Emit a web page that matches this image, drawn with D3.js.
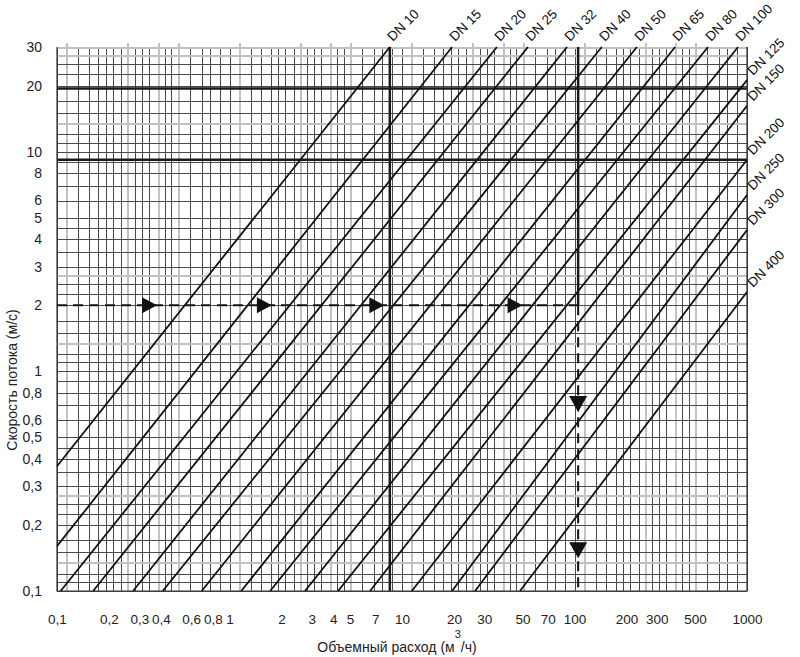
<!DOCTYPE html>
<html>
<head>
<meta charset="utf-8">
<script src="https://cdnjs.cloudflare.com/ajax/libs/d3/7.8.5/d3.min.js"></script>
<style>
  body { margin: 0; background: #fff; }
  svg { font-family: "Liberation Sans", Arial, sans-serif; }
  .axis text { font-size: 14px; fill: #222; }
  .x.axis text { font-size: 13.5px; }
  .axis .domain { display: none; }
</style>
</head>
<body>
<script>
// pipe sizes, one line each
var dnNames = ["DN 10", "DN 15", "DN 20", "DN 25", "DN 32", "DN 40", "DN 50", "DN 65",
               "DN 80", "DN 100", "DN 125", "DN 150", "DN 200", "DN 250", "DN 300", "DN 400"];

// lower and upper end of each line, [flow m3/h, velocity m/s]
var lineStart = [[0.1, 0.37], [0.1, 0.16], [0.105, 0.1], [0.162, 0.1], [0.276, 0.1], [0.41, 0.1],
                 [0.69, 0.1], [1.17, 0.1], [1.72, 0.1], [2.74, 0.1], [4.26, 0.1], [6.53, 0.1],
                 [11.4, 0.1], [19.5, 0.1], [26.5, 0.1], [48.3, 0.1]];
var lineEnd = [[8.5, 30], [19.5, 30], [35.5, 30], [53.7, 30], [90.5, 30], [144, 30],
               [230, 30], [383, 30], [594, 30], [887, 30], [1000, 21.2], [1000, 16.2],
               [1000, 9.2], [1000, 6.36], [1000, 4.4], [1000, 2.3]];

// tick labels
var xTicks = [0.1, 0.2, 0.3, 0.4, 0.6, 0.8, 1, 2, 3, 4, 5, 7, 10, 20, 30, 50, 70, 100, 200, 300, 500, 1000];
var yTicks = [0.1, 0.2, 0.3, 0.4, 0.5, 0.6, 0.8, 1, 2, 3, 4, 5, 6, 8, 10, 20, 30];

// grid paper: lines inside every decade
var decadesX = [0.1, 1, 10, 100];
var gridMantX = [1, 1.13, 1.33, 1.53, 1.73, 1.92, 2.1, 2.35, 2.55, 2.83, 3.1, 3.4, 3.85, 4.2, 4.6, 5, 5.9, 6.9, 7.7, 8.8];
var grayMantX = [1.13, 2.55, 3.85, 5];
var decadesY = [0.1, 1, 10];
var gridMantY = [1, 1.1, 1.2, 1.35, 1.5, 1.7, 2, 2.25, 2.5, 2.75, 3, 3.5, 4, 4.5, 5, 6, 7, 8, 9];
var grayMantY = [1.35, 2.75];

// the heavy lines of the chart
var heavyY = [9.2, 19.4];
var heavyX = [8.5];

// worked example: 2 m/s, about 105 m3/h
var exampleV = 2;
var exampleQ = 105;
var arrowFlows = [0.38, 1.76, 7.9, 50];
var arrowVels = [0.653, 0.141];

var margin = {top: 47, right: 53, bottom: 66, left: 57};
var width = 800 - margin.left - margin.right;
var height = 657 - margin.top - margin.bottom;

var svg = d3.select("body").append("svg")
    .attr("width", 800)
    .attr("height", 657)
  .append("g")
    .attr("transform", "translate(" + margin.left + "," + margin.top + ")");

var x = d3.scaleLog().domain([0.1, 1000]).range([0, width]);
var y = d3.scaleLog().domain([0.1, 30]).range([height, 0]);

// build grid values
var gridX = [], gridY = [];
decadesX.forEach(function(d) {
  gridMantX.forEach(function(m) {
    gridX.push({v: d * m, gray: grayMantX.indexOf(m) >= 0});
  });
});
gridX.push({v: 1000, gray: false});
decadesY.forEach(function(d) {
  gridMantY.forEach(function(m) {
    if (d * m <= 30) gridY.push({v: d * m, gray: grayMantY.indexOf(m) >= 0});
  });
});
gridY.push({v: 30, gray: true});

var grid = svg.append("g").attr("shape-rendering", "crispEdges");

grid.selectAll(".gx")
    .data(gridX)
  .enter().append("line")
    .attr("x1", function(d) { return Math.round(x(d.v)) + 0.5; })
    .attr("x2", function(d) { return Math.round(x(d.v)) + 0.5; })
    .attr("y1", function(d) { return d.gray ? -4 : 0; })
    .attr("y2", height)
    .attr("stroke", function(d) { return d.gray ? "#c2c2c2" : "#4a4a4a"; })
    .attr("stroke-width", function(d) { return d.gray ? 2 : 1; });

grid.selectAll(".gy")
    .data(gridY)
  .enter().append("line")
    .attr("x1", 0)
    .attr("x2", width)
    .attr("y1", function(d) { return Math.round(y(d.v)) + 0.5; })
    .attr("y2", function(d) { return Math.round(y(d.v)) + 0.5; })
    .attr("stroke", function(d) { return d.gray ? "#c2c2c2" : "#4a4a4a"; })
    .attr("stroke-width", function(d) { return d.gray ? 2 : 1; });

// heavy lines
svg.selectAll(".hy")
    .data(heavyY)
  .enter().append("line")
    .attr("x1", 0).attr("x2", width)
    .attr("y1", function(d) { return y(d); })
    .attr("y2", function(d) { return y(d); })
    .attr("stroke", "#1a1a1a")
    .attr("stroke-width", 2.5);

svg.selectAll(".hx")
    .data(heavyX)
  .enter().append("line")
    .attr("x1", function(d) { return x(d); })
    .attr("x2", function(d) { return x(d); })
    .attr("y1", 0).attr("y2", height)
    .attr("stroke", "#1a1a1a")
    .attr("stroke-width", 2.5);

svg.append("line")
    .attr("x1", x(exampleQ)).attr("x2", x(exampleQ))
    .attr("y1", y(30)).attr("y2", y(exampleV))
    .attr("stroke", "#1a1a1a")
    .attr("stroke-width", 2.5);

// frame (left, right, bottom dark; top is the gray grid line)
svg.append("path")
    .attr("d", "M0,0V" + height + "H" + width + "V0")
    .attr("fill", "none")
    .attr("stroke", "#333")
    .attr("stroke-width", 1.2);

// the pipe lines
svg.selectAll(".dn")
    .data(dnNames)
  .enter().append("line")
    .attr("class", "dn")
    .attr("x1", function(d, i) { return x(lineStart[i][0]); })
    .attr("y1", function(d, i) { return y(lineStart[i][1]); })
    .attr("x2", function(d, i) { return x(lineEnd[i][0]); })
    .attr("y2", function(d, i) { return y(lineEnd[i][1]); })
    .attr("stroke", "#111")
    .attr("stroke-width", 1.8);

svg.selectAll(".dnlabel")
    .data(dnNames)
  .enter().append("text")
    .attr("transform", function(d, i) {
      var e = lineEnd[i];
      if (e[1] >= 30) return "translate(" + (x(e[0]) + 3) + "," + (-5) + ") rotate(-45)";
      return "translate(" + (width + 6) + "," + (y(e[1]) - 4) + ") rotate(-45)";
    })
    .style("font-size", "13.5px")
    .attr("fill", "#111")
    .text(function(d) { return d; });

// worked example, dashed
svg.append("line")
    .attr("x1", x(0.1)).attr("x2", x(exampleQ))
    .attr("y1", y(exampleV)).attr("y2", y(exampleV))
    .attr("stroke", "#111")
    .attr("stroke-width", 2)
    .attr("stroke-dasharray", "10,6");

svg.append("line")
    .attr("x1", x(exampleQ)).attr("x2", x(exampleQ))
    .attr("y1", y(exampleV)).attr("y2", y(0.1))
    .attr("stroke", "#111")
    .attr("stroke-width", 2)
    .attr("stroke-dasharray", "10,6");

svg.selectAll(".arr")
    .data(arrowFlows)
  .enter().append("path")
    .attr("d", function(d) {
      var tx = x(d), ty = y(exampleV);
      return "M" + tx + "," + ty + "L" + (tx - 15) + "," + (ty - 8) + "L" + (tx - 15) + "," + (ty + 8) + "Z";
    })
    .attr("fill", "#111");

svg.selectAll(".arrd")
    .data(arrowVels)
  .enter().append("path")
    .attr("d", function(d) {
      var tx = x(exampleQ), ty = y(d);
      return "M" + tx + "," + ty + "L" + (tx - 9) + "," + (ty - 16) + "L" + (tx + 9) + "," + (ty - 16) + "Z";
    })
    .attr("fill", "#111");

// axes
var fmt = function(d) { return String(d).replace(".", ","); };

svg.append("g")
    .attr("class", "x axis")
    .attr("transform", "translate(0," + height + ")")
    .call(d3.axisBottom(x).tickValues(xTicks).tickFormat(fmt).tickSize(0).tickPadding(23));

svg.append("g")
    .attr("class", "y axis")
    .call(d3.axisLeft(y).tickValues(yTicks).tickFormat(fmt).tickSize(0).tickPadding(15));

// axis titles
var xt = svg.append("text")
    .attr("x", 340)
    .attr("y", height + 61)
    .attr("text-anchor", "middle")
    .style("font-size", "14px")
    .attr("fill", "#222");
xt.append("tspan").text("Объемный расход (м");
xt.append("tspan").attr("dy", -14).style("font-size", "11px").text("3");
xt.append("tspan").attr("dy", 14).text("/ч)");

svg.append("text")
    .attr("transform", "translate(" + (-40) + "," + 333 + ") rotate(-90)")
    .attr("text-anchor", "middle")
    .style("font-size", "14px")
    .attr("fill", "#222")
    .text("Скорость потока (м/с)");
</script>
</body>
</html>
